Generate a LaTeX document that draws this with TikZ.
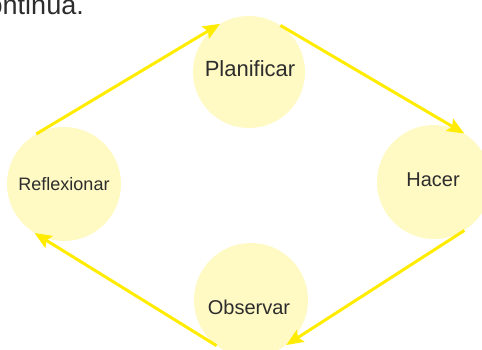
\documentclass[tikz,border=0pt]{standalone}
\usepackage{fontspec}
\setmainfont{Liberation Sans}
\usetikzlibrary{arrows.meta}
\definecolor{circfill}{RGB}{255,249,196}
\definecolor{arrowyel}{RGB}{255,236,0}
\definecolor{txt}{RGB}{45,45,45}
\tikzset{
  phase/.style={circle, fill=circfill, inner sep=0pt, minimum size=#1},
  phaselabel/.style={inner sep=0pt, text=txt},
  cyclearrow/.style={draw=arrowyel, line width=3pt, -{Stealth[length=17pt,width=14pt,inset=3pt]}},
}
\begin{document}
\begin{tikzpicture}[x=1pt,y=-1pt]
\useasboundingbox (0,0) rectangle (482,350);
\node[anchor=base east, inner sep=0pt, text=txt, font=\fontsize{27}{30}\selectfont] (top) at (84,15) {continúa.};
\node[phase=112pt] (P) at (249,72) {};
\node[phase=114pt] (R) at (64,184) {};
\node[phase=114pt] (H) at (434,182) {};
\node[phase=114pt] (O) at (251,300) {};
\node[phaselabel, font=\fontsize{22}{26}\selectfont] (Pt) at (250,69) {Planificar};
\node[phaselabel, font=\fontsize{18}{22}\selectfont] (Rt) at (64,184) {Reflexionar};
\node[phaselabel, font=\fontsize{20}{24}\selectfont] (Ht) at (433,180) {Hacer};
\node[phaselabel, font=\fontsize{20}{24}\selectfont] (Ot) at (249,307) {Observar};
\draw[cyclearrow] (R.119) -- (P.121);
\draw[cyclearrow] (P.56) -- (H.58);
\draw[cyclearrow] (H.-58) -- (O.-52);
\draw[cyclearrow] (O.233) -- (R.239);
\end{tikzpicture}
\end{document}
